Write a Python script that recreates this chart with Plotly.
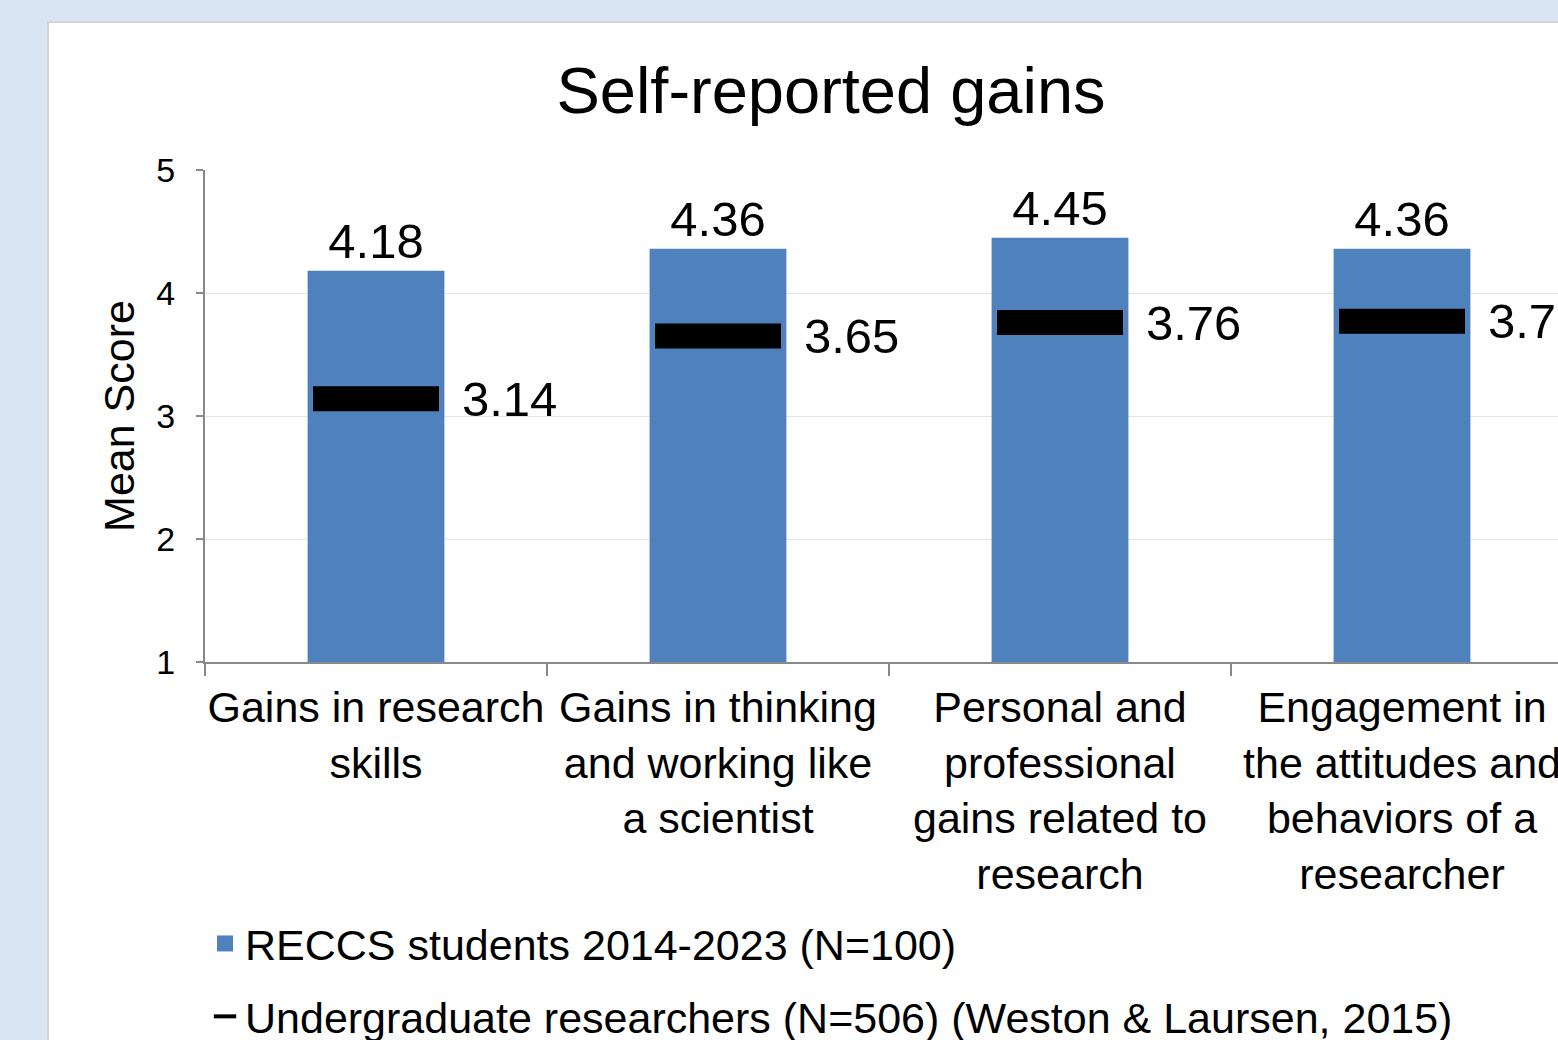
import plotly.graph_objects as go

categories = [
    "Gains in research<br>skills",
    "Gains in thinking<br>and working like<br>a scientist",
    "Personal and<br>professional<br>gains related to<br>research",
    "Engagement in<br>the attitudes and<br>behaviors of a<br>researcher",
]
reccs_values = [4.18, 4.36, 4.45, 4.36]
ugr_values = [3.14, 3.65, 3.76, 3.77]
series_names = [
    "RECCS students 2014-2023 (N=100)",
    "Undergraduate researchers (N=506) (Weston & Laursen, 2015)",
]
title_text = "Self-reported gains"
y_title = "Mean Score"

FONT = "Liberation Sans, Arial, sans-serif"
BAR_COLOR = "#4f81bd"
W, H = 1558, 1040
L, R, T, B = 205, 0, 170, 378
pw, ph = W - L - R, H - T - B

def px2x(px):
    return (px - L) / pw

def py2y(py):
    return (H - B - py) / ph

fig = go.Figure()

fig.add_trace(go.Bar(
    x=categories, y=[v - 1 for v in reccs_values], base=1,
    name=series_names[0],
    marker=dict(color=BAR_COLOR, line=dict(width=0)),
    width=0.4,
    text=[f"{v:.2f}" for v in reccs_values],
    textposition="outside",
    textfont=dict(size=49, color="black", family=FONT),
    cliponaxis=False,
    showlegend=False,
    hoverinfo="skip",
))

fig.add_trace(go.Scatter(
    x=categories, y=ugr_values,
    name=series_names[1],
    mode="markers",
    marker=dict(symbol="line-ew", size=90, color="black",
                line=dict(width=25, color="black")),
    cliponaxis=False,
    showlegend=False,
    hoverinfo="skip",
))

# legend entries
fig.add_trace(go.Scatter(
    x=[None], y=[None], mode="markers", name=series_names[0],
    marker=dict(symbol="square", size=16, color=BAR_COLOR),
    legendgroup="a",
))
fig.add_trace(go.Scatter(
    x=[None], y=[None], mode="markers", name=series_names[1],
    marker=dict(symbol="line-ew", size=16, color="black",
                line=dict(width=4, color="black")),
    legendgroup="b",
))

for c, v in zip(categories, ugr_values):
    fig.add_annotation(x=c, y=v, xref="x", yref="y", text=f"{v:.2f}",
                       showarrow=False, xanchor="left", yanchor="middle",
                       xshift=84, font=dict(size=49, color="black", family=FONT))

fig.add_shape(type="rect", xref="paper", yref="paper",
              x0=px2x(48), x1=px2x(1700), y0=py2y(1200), y1=py2y(22),
              fillcolor="white", line=dict(color="#d4d4d4", width=2),
              layer="below")

fig.update_layout(
    width=W, height=H,
    margin=dict(l=L, r=R, t=T, b=B, pad=0, autoexpand=False),
    paper_bgcolor="#dae5f4",
    plot_bgcolor="rgba(0,0,0,0)",
    font=dict(family=FONT, color="black"),
    title=dict(text=title_text, x=px2x(831), xref="paper", xanchor="center",
               y=1 - 90 / H, yref="container", yanchor="middle",
               font=dict(size=65, color="black", family=FONT)),
    showlegend=True,
    legend=dict(x=px2x(205), xanchor="left", y=py2y(909), yanchor="top",
                orientation="v", font=dict(size=43, family=FONT, color="black"),
                tracegroupgap=14, bgcolor="rgba(0,0,0,0)", itemsizing="trace"),
    bargap=0.6,
)

fig.update_xaxes(
    range=[-0.5, -0.5 + pw / 342.0],
    showline=True, linecolor="#898989", linewidth=2,
    ticks="outside", tickson="boundaries", ticklen=12, tickwidth=2, tickcolor="#898989",
    tickfont=dict(size=43, family=FONT, color="black"),
    tickangle=0, automargin=False,
    ticklabelstandoff=6,
    showgrid=False, fixedrange=True,
)
fig.update_yaxes(
    range=[1, 5], dtick=1, tick0=1,
    showline=True, linecolor="#898989", linewidth=2,
    ticks="outside", ticklen=7, tickwidth=2, tickcolor="#898989",
    tickfont=dict(size=34, family=FONT, color="black"),
    showgrid=True, gridcolor="#e6e6e6", gridwidth=1,
    zeroline=False, automargin=False,
    title=dict(text=y_title, font=dict(size=43, family=FONT, color="black"), standoff=8),
    ticklabelstandoff=14,
    fixedrange=True,
)

fig.write_html(
    "out.html",
    config={"displayModeBar": False},
    post_script="document.body.style.margin='0';document.body.style.background='#dae5f4';document.body.style.overflow='hidden';",
)
